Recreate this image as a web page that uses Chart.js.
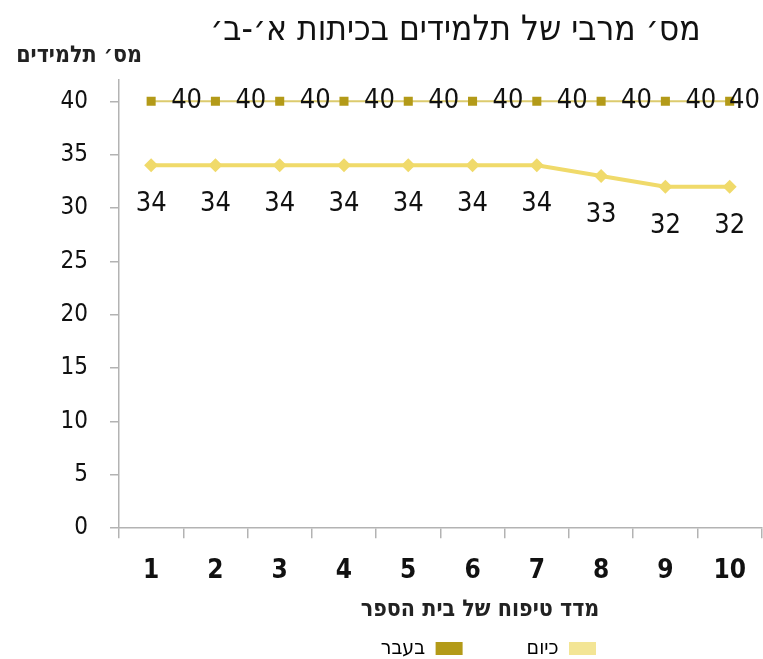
<!DOCTYPE html>
<html lang="he">
<head>
<meta charset="utf-8">
<script src="https://cdn.jsdelivr.net/npm/chart.js@4/dist/chart.umd.min.js"></script>
<style>
html,body{margin:0;padding:0;background:#fff;}
#wrap{width:763px;height:659px;position:relative;}
#c{direction:rtl;}
</style>
</head>
<body>
<div id="wrap"><canvas id="c" width="763" height="659"></canvas></div>
<script>
const categories = ['1','2','3','4','5','6','7','8','9','10'];
const pastValues = [40,40,40,40,40,40,40,40,40,40];
const todayValues = [34,34,34,34,34,34,34,33,32,32];
const yTickValues = [0,5,10,15,20,25,30,35,40];
const titleText = 'מס׳ מרבי של תלמידים בכיתות א׳-ב׳';
const yTitleText = 'מס׳ תלמידים';
const xTitleText = 'מדד טיפוח של בית הספר';
const pastLabel = 'בעבר';
const todayLabel = 'כיום';

const condFont = '"DejaVu Sans Condensed", "DejaVu Sans", sans-serif';
const axisColor = '#b3b3b3';
const pad = n => ' '.repeat(n);

const labelsPlugin = {
  id: 'pointLabels',
  afterDatasetsDraw(chart) {
    const ctx = chart.ctx;
    ctx.save();
    ctx.fillStyle = '#111';
    ctx.font = '27px ' + condFont;
    ctx.direction = 'ltr';
    chart.data.datasets.forEach((ds, di) => {
      const meta = chart.getDatasetMeta(di);
      meta.data.forEach((pt, i) => {
        const s = String(ds.data[i]);
        ctx.textBaseline = 'middle';
        if (di === 0) {
          ctx.textAlign = 'left';
          const w = ctx.measureText(s).width;
          const x = Math.min(pt.x + 20, chart.width - w - 3);
          ctx.fillText(s, x, pt.y);
        } else {
          ctx.textAlign = 'center';
          ctx.fillText(s, pt.x, pt.y + 39);
        }
      });
    });
    ctx.restore();
  }
};

const yTitlePlugin = {
  id: 'yTitleTop',
  afterDraw(chart) {
    const ctx = chart.ctx;
    ctx.save();
    ctx.fillStyle = '#222';
    ctx.font = 'bold 23px ' + condFont;
    ctx.textAlign = 'right';
    ctx.textBaseline = 'middle';
    ctx.direction = 'rtl';
    ctx.fillText(yTitleText, 142, 56);
    ctx.restore();
  }
};

new Chart(document.getElementById('c'), {
  type: 'line',
  data: {
    labels: categories,
    datasets: [
      {
        label: pastLabel,
        data: pastValues,
        borderColor: '#dccb6e',
        borderWidth: 2,
        backgroundColor: '#b39a18',
        pointStyle: 'rect',
        pointRadius: 6.4,
        pointBorderWidth: 0,
        pointBackgroundColor: '#b39a18',
        tension: 0
      },
      {
        label: todayLabel,
        data: todayValues,
        borderColor: '#f0da6a',
        borderWidth: 4,
        backgroundColor: '#f3e595',
        pointStyle: 'rectRot',
        pointRadius: 7,
        pointBorderWidth: 0,
        pointBackgroundColor: '#f0da6a',
        tension: 0
      }
    ]
  },
  options: {
    responsive: false,
    animation: false,
    layout: { autoPadding: false, padding: { left: 0, right: 0, top: 0, bottom: -10 } },
    plugins: {
      title: {
        display: true,
        text: titleText + pad(3),
        fullSize: false,
        color: '#111',
        font: { family: condFont, size: 35, weight: 'normal' },
        padding: { top: 10, bottom: 28 }
      },
      legend: {
        position: 'bottom',
        rtl: true,
        reverse: true,
        textDirection: 'rtl',
        fullSize: false,
        labels: {
          color: '#444',
          font: { family: condFont, size: 21 },
          boxWidth: 27,
          boxHeight: 13,
          padding: 10,
          generateLabels(chart) {
            const n = chart.data.datasets.length;
            return chart.data.datasets.map((ds, i) => ({
              text: ds.label + (i === n - 1 ? pad(9) : pad(16)),
              fillStyle: ds.backgroundColor,
              strokeStyle: ds.backgroundColor,
              lineWidth: 0,
              datasetIndex: i,
              hidden: false
            }));
          }
        }
      },
      tooltip: { enabled: false }
    },
    scales: {
      x: {
        type: 'category',
        offset: true,
        grid: {
          offset: true,
          drawOnChartArea: false,
          color: axisColor,
          tickLength: 10,
          lineWidth: 1.5
        },
        border: { color: axisColor, width: 1.5 },
        ticks: {
          color: '#111',
          font: { family: condFont, size: 26, weight: 'bold' },
          padding: 17,
          maxRotation: 0
        },
        title: {
          display: true,
          text: xTitleText + pad(11),
          color: '#222',
          font: { family: condFont, size: 23, weight: 'bold' },
          padding: { top: -7, bottom: 4 }
        }
      },
      y: {
        min: 0,
        max: 42,
        afterBuildTicks(scale) {
          scale.ticks = yTickValues.map(v => ({ value: v }));
        },
        grid: {
          drawOnChartArea: false,
          color: axisColor,
          tickLength: 9,
          lineWidth: 1.5
        },
        border: { color: axisColor, width: 1.5 },
        ticks: {
          color: '#111',
          font: { family: condFont, size: 24 },
          padding: 22
        },
        afterFit(scale) { scale.width = 119; }
      }
    }
  },
  plugins: [labelsPlugin, yTitlePlugin]
});
</script>
</body>
</html>
